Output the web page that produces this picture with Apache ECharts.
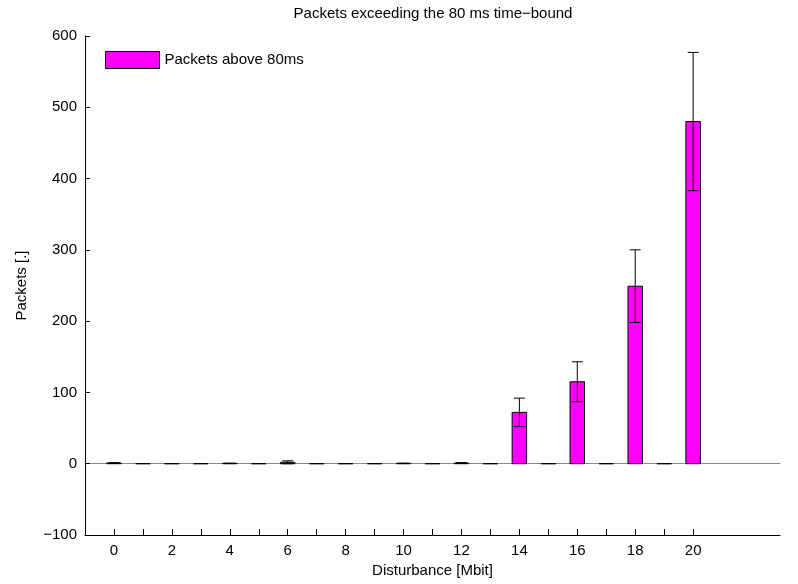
<!DOCTYPE html>
<html>
<head>
<meta charset="utf-8">
<script src="https://cdn.jsdelivr.net/npm/echarts@6/dist/echarts.min.js"></script>
<style>
    html, body { margin: 0; padding: 0; background: #fff; }
    #chart { width: 798px; height: 584px; }
</style>
</head>
<body>
<div id="chart"></div>
<script>
// 数据
var disturbance = [0, 1, 2, 3, 4, 5, 6, 7, 8, 9, 10, 11, 12, 13, 14, 15, 16, 17, 18, 19, 20];
var packets     = [1, 0, 0, 0, 0.5, 0, 2, 0, 0, 0, 0.5, 0, 1, 0, 72, 0, 115, 0, 249, 0, 480];
var packetsErr  = [0.5, 0, 0, 0, 0.3, 0, 2, 0, 0, 0, 0.3, 0, 0.5, 0, 20, 0, 28, 0, 51, 0, 97];
var xTicks      = [0, 1, 2, 3, 4, 5, 6, 7, 8, 9, 10, 11, 12, 13, 14, 15, 16, 17, 18, 19, 20];
var xLabels     = [0, 2, 4, 6, 8, 10, 12, 14, 16, 18, 20];
var yMin = -100, yMax = 600, yStep = 100;
var xMin = -1, xMax = 23;
var seriesName = 'Packets above 80ms';

var FONT = '"Liberation Sans", Arial, Helvetica, sans-serif';

var tableData = [];
for (var i = 0; i < disturbance.length; i++) {
    tableData.push([disturbance[i], packets[i], packetsErr[i]]);
}

//柱子 + 误差线
function renderBar(params, api) {
    var x = api.value(0), v = api.value(1), e = api.value(2);
    var unit = api.size([1, 0])[0];
    var halfW = unit * 0.25;
    var capW = unit * 0.19;
    var base = api.coord([x, 0]);
    var top = api.coord([x, v]);
    var children = [{
        type: 'rect',
        shape: { x: base[0] - halfW, y: top[1], width: halfW * 2, height: base[1] - top[1] },
        style: { fill: '#ff00ff', stroke: '#000', lineWidth: 1 }
    }];
    if (e > 0) {
        var hi = api.coord([x, v + e]);
        var lo = api.coord([x, v - e]);
        var ls = { stroke: '#000', lineWidth: 1 };
        children.push({ type: 'line', shape: { x1: hi[0], y1: hi[1], x2: lo[0], y2: lo[1] }, style: ls });
        children.push({ type: 'line', shape: { x1: hi[0] - capW, y1: hi[1], x2: hi[0] + capW, y2: hi[1] }, style: ls });
        children.push({ type: 'line', shape: { x1: lo[0] - capW, y1: lo[1], x2: lo[0] + capW, y2: lo[1] }, style: ls });
    }
    return { type: 'group', children: children };
}

var myChart = echarts.init(document.getElementById('chart'), null, { renderer: 'canvas' });
var option = {
    animation: false,
    backgroundColor: '#fff',
    textStyle: { fontFamily: FONT },
    title: {
        text: 'Packets exceeding the 80 ms time\u2212bound',
        left: 428,
        top: 1,
        textAlign: 'center',
        textStyle: { fontFamily: FONT, fontSize: 15, fontWeight: 'normal', color: '#000' }
    },
    legend: {
        left: 105,
        top: 51,
        padding: 0,
        itemWidth: 54,
        itemHeight: 17,
        data: [{
            name: seriesName,
            icon: 'rect',
            itemStyle: { color: '#ff00ff', borderColor: '#000', borderWidth: 1 }
        }],
        textStyle: { fontFamily: FONT, fontSize: 15, color: '#000' }
    },
    grid: { left: 85, right: 18, top: 36, bottom: 49, containLabel: false },
    xAxis: [{
        type: 'value',
        min: xMin,
        max: xMax,
        interval: 1,
        position: 'bottom',
        name: 'Disturbance [Mbit]',
        nameLocation: 'middle',
        nameGap: 26,
        nameTextStyle: { fontFamily: FONT, fontSize: 15, color: '#000' },
        axisLine: { onZero: false, lineStyle: { color: '#000', width: 1 } },
        axisTick: { inside: true, length: 6, customValues: xTicks, lineStyle: { color: '#000' } },
        axisLabel: { customValues: xLabels, margin: 8, fontSize: 15, color: '#000', fontFamily: FONT },
        splitLine: { show: false }
    }, {
        // baseline at y = 0
        type: 'value',
        min: xMin,
        max: xMax,
        position: 'top',
        axisLine: { onZero: true, onZeroAxisIndex: 0, lineStyle: { color: '#888', width: 1 } },
        axisTick: { show: false },
        axisLabel: { show: false },
        splitLine: { show: false }
    }],
    yAxis: {
        type: 'value',
        min: yMin,
        max: yMax,
        interval: yStep,
        name: 'Packets [.]',
        nameLocation: 'middle',
        nameGap: 56,
        nameTextStyle: { fontFamily: FONT, fontSize: 15, color: '#000' },
        axisLine: { show: true, onZero: false, lineStyle: { color: '#000', width: 1 } },
        axisTick: { inside: true, length: 5, lineStyle: { color: '#000' } },
        axisLabel: {
            margin: 8,
            fontSize: 15,
            color: '#000',
            fontFamily: FONT,
            formatter: function (v) { return String(v).replace('-', '\u2212'); }
        },
        splitLine: { show: false }
    },
    series: [{
        name: seriesName,
        type: 'custom',
        xAxisIndex: 0,
        yAxisIndex: 0,
        itemStyle: { color: '#ff00ff', borderColor: '#000', borderWidth: 1 },
        renderItem: renderBar,
        encode: { x: 0, y: 1 },
        data: tableData,
        z: 3
    }]
};
myChart.setOption(option);
</script>
</body>
</html>
